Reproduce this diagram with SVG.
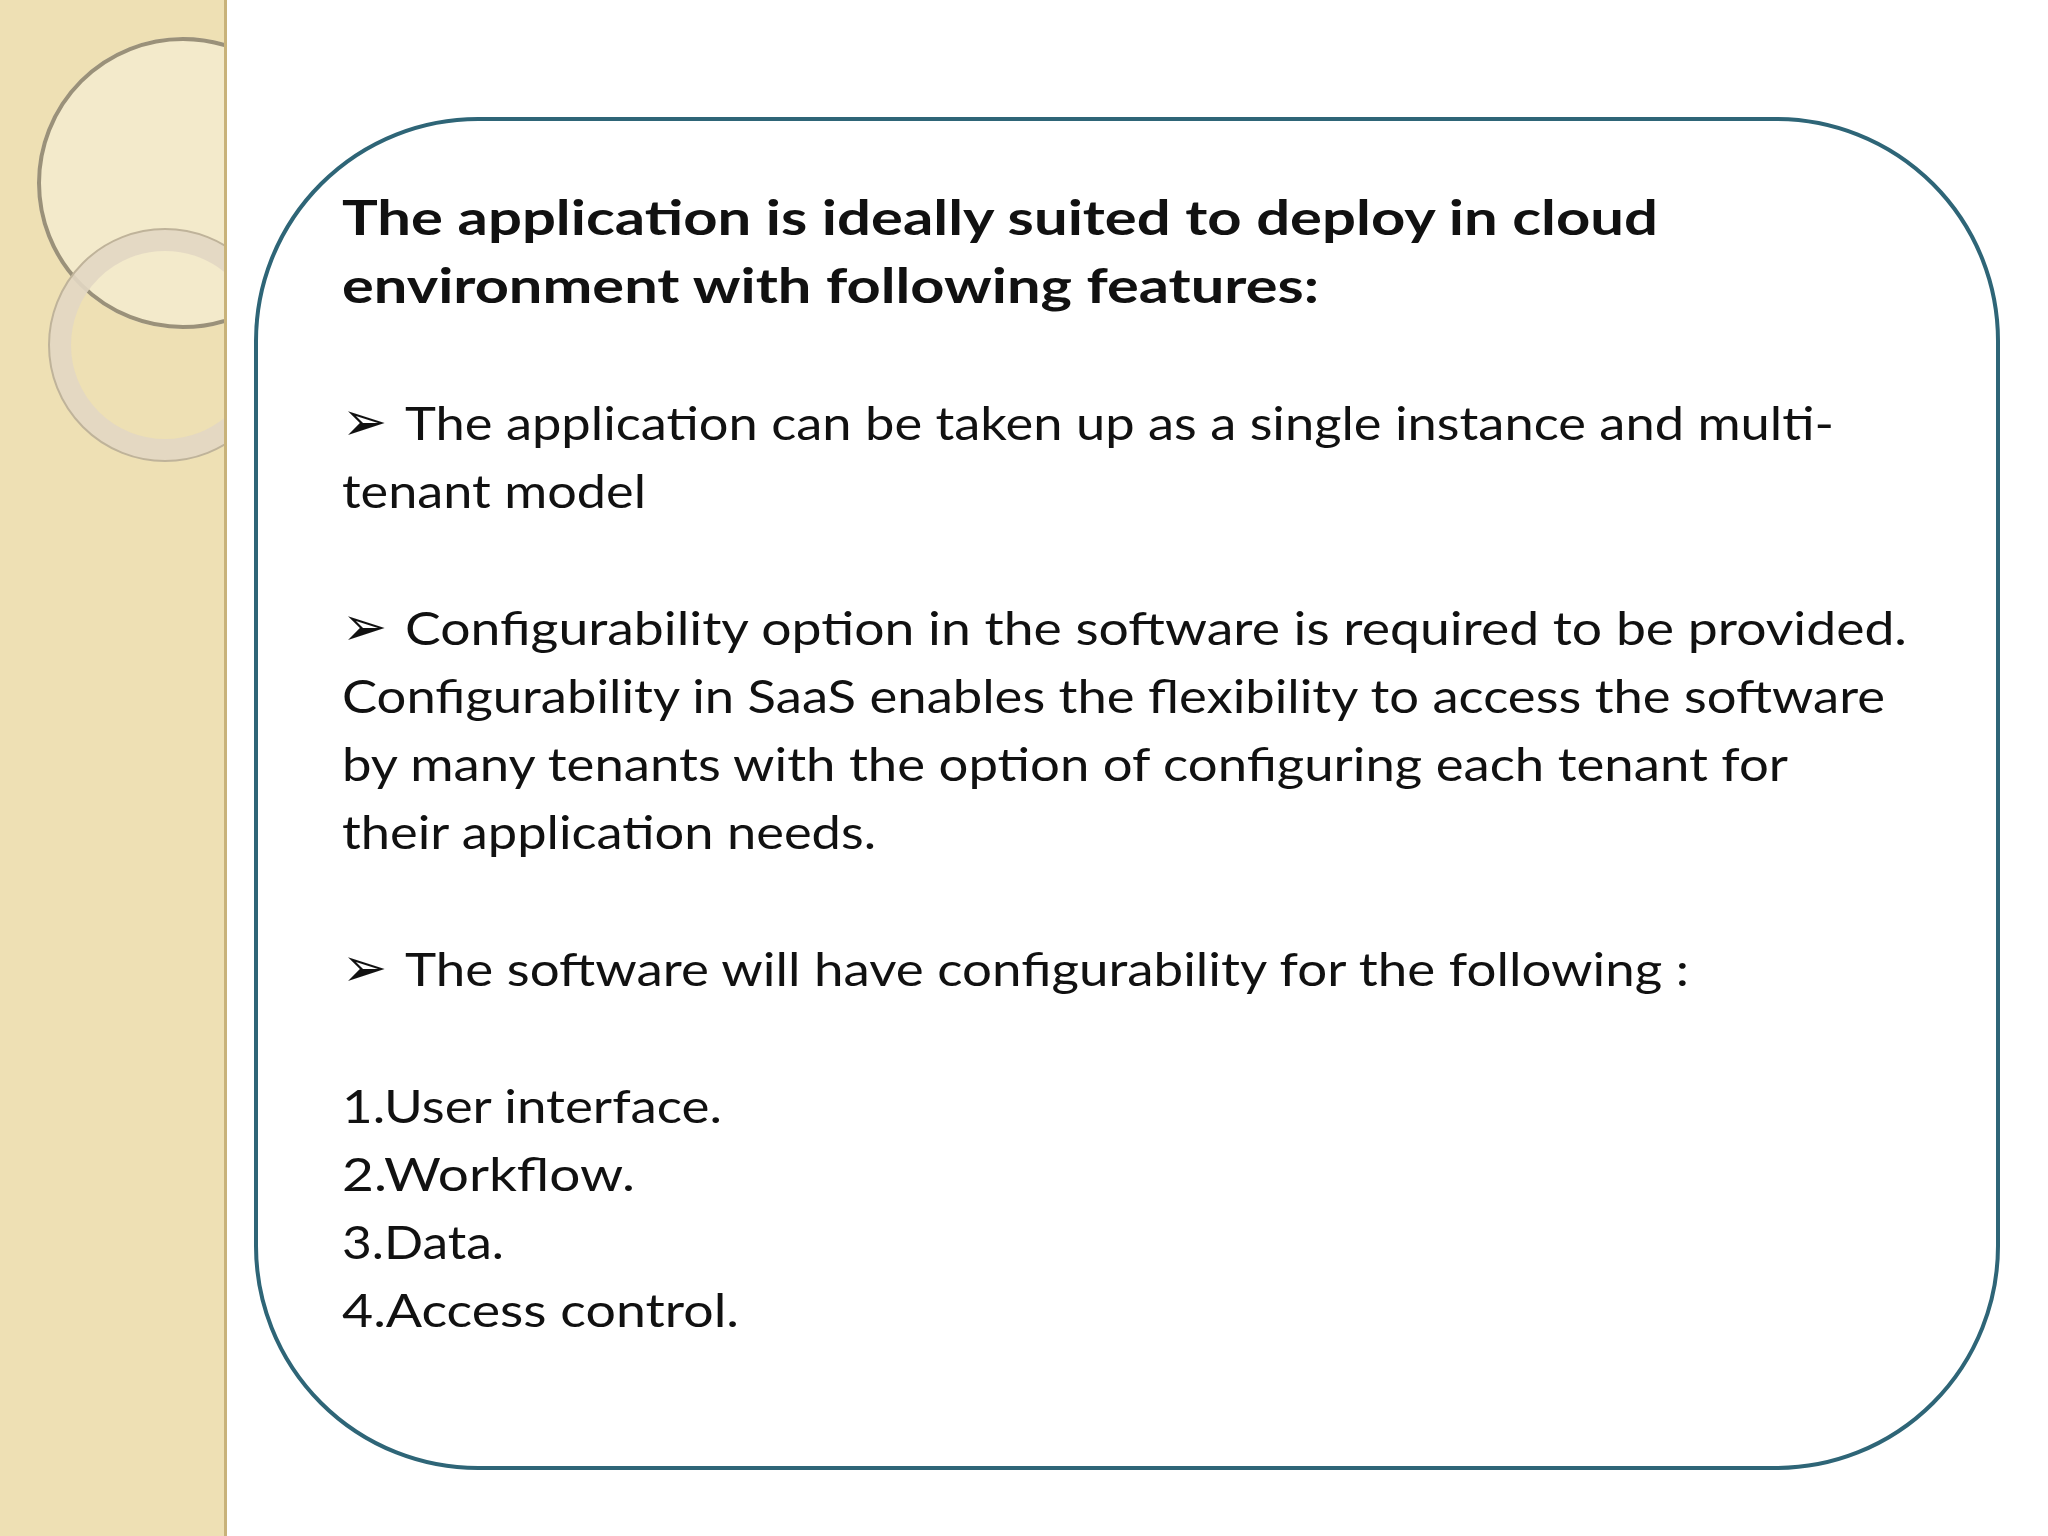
<svg xmlns="http://www.w3.org/2000/svg" width="2048" height="1536" viewBox="0 0 2048 1536">
<style>
.t{font-family:Lato,"Open Sans","Liberation Sans",sans-serif;font-size:47px;fill:#111}
.b{font-weight:bold}
.ar{font-family:"DejaVu Sans",sans-serif;font-size:54px;font-weight:bold;fill:#111}
</style>
<defs><clipPath id="cs"><rect x="0" y="0" width="224" height="1536"/></clipPath></defs>
<rect width="2048" height="1536" fill="#fff"/>
<g id="strip">
<rect x="0" y="0" width="226" height="1536" fill="#EEE0B4"/>
<rect x="224" y="0" width="3" height="1536" fill="#C8B27A"/>
<g clip-path="url(#cs)">
<circle cx="183" cy="183" r="146" fill="#F7F0DA" opacity="0.6"/>
<circle cx="183" cy="183" r="144" fill="none" stroke="#9A917A" stroke-width="4"/>
<circle cx="165" cy="345" r="105" fill="none" stroke="#E2D7C3" stroke-width="22" opacity="0.9"/>
<circle cx="165" cy="345" r="116" fill="none" stroke="#BFB39A" stroke-width="2"/>
</g>
</g>
<g id="box">
<rect x="256" y="119" width="1742" height="1349" rx="222" ry="222" fill="#fff" stroke="#2E6577" stroke-width="4"/>
</g>
<g id="text">
<text class="t b" x="342" y="235" textLength="1316" lengthAdjust="spacingAndGlyphs">The application is ideally suited to deploy in cloud</text>
<text class="t b" x="342" y="303" textLength="977" lengthAdjust="spacingAndGlyphs">environment with following features:</text>
<text class="ar" x="342" y="440">➢</text>
<text class="t" x="405" y="440" textLength="1429" lengthAdjust="spacingAndGlyphs">The application can be taken up as a single instance and multi-</text>
<text class="t" x="342" y="508" textLength="304" lengthAdjust="spacingAndGlyphs">tenant model</text>
<text class="ar" x="342" y="645">➢</text>
<text class="t" x="405" y="645" textLength="1502" lengthAdjust="spacingAndGlyphs">Configurability option in the software is required to be provided.</text>
<text class="t" x="342" y="713" textLength="1543" lengthAdjust="spacingAndGlyphs">Configurability in SaaS enables the flexibility to access the software</text>
<text class="t" x="342" y="781" textLength="1446" lengthAdjust="spacingAndGlyphs">by many tenants with the option of configuring each tenant for</text>
<text class="t" x="342" y="849" textLength="534" lengthAdjust="spacingAndGlyphs">their application needs.</text>
<text class="ar" x="342" y="986">➢</text>
<text class="t" x="405" y="986" textLength="1284" lengthAdjust="spacingAndGlyphs">The software will have configurability for the following :</text>
<text class="t" x="342" y="1123" textLength="380" lengthAdjust="spacingAndGlyphs">1.User interface.</text>
<text class="t" x="342" y="1191" textLength="293" lengthAdjust="spacingAndGlyphs">2.Workflow.</text>
<text class="t" x="342" y="1259" textLength="162" lengthAdjust="spacingAndGlyphs">3.Data.</text>
<text class="t" x="342" y="1327" textLength="397" lengthAdjust="spacingAndGlyphs">4.Access control.</text>
</g>
</svg>
